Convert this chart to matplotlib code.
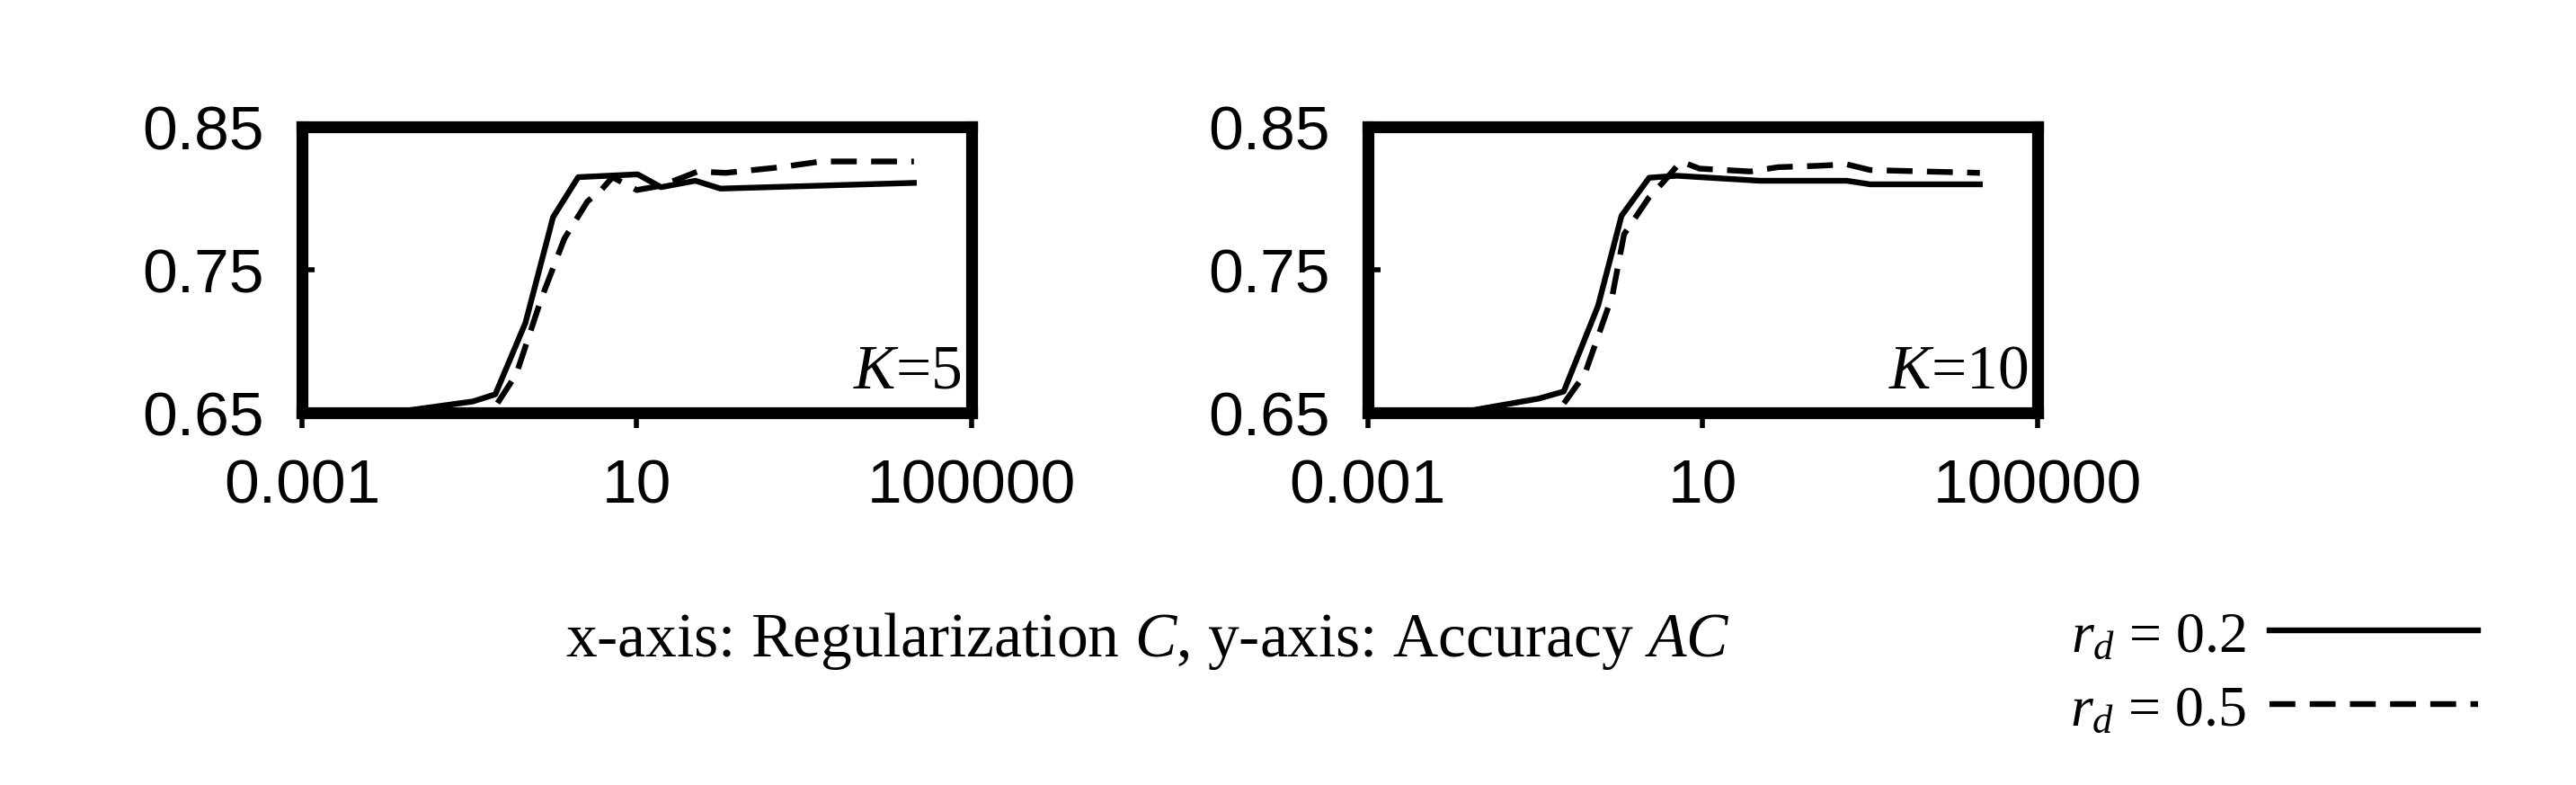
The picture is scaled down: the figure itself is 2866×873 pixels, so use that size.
import matplotlib
matplotlib.use("Agg")
import matplotlib.pyplot as plt
import numpy as np

# log10(C) positions and accuracy values
k5_solid_logc = [-3, -1.95, -0.96, -0.69, -0.33, 0.0, 0.30, 1.01, 1.29, 1.70, 2.0, 4.31]
k5_solid_ac = [0.650, 0.650, 0.658, 0.663, 0.713, 0.787, 0.815, 0.817, 0.808, 0.8125, 0.807, 0.811]
k5_dash_logc = [-3, -0.74, -0.44, -0.14, 0.135, 0.41, 0.575, 0.71, 1.0, 1.29, 1.73, 2.06, 2.72, 3.2, 4.31]
k5_dash_ac = [0.650, 0.650, 0.677, 0.730, 0.772, 0.798, 0.806, 0.815, 0.806, 0.809, 0.819, 0.818, 0.822, 0.826, 0.826]

k10_solid_logc = [-3, -1.93, -0.96, -0.66, -0.25, 0.03, 0.36, 0.69, 1.68, 2.72, 3.0, 4.31]
k10_solid_ac = [0.650, 0.650, 0.660, 0.665, 0.725, 0.788, 0.8146, 0.816, 0.8125, 0.8125, 0.810, 0.810]
k10_dash_logc = [-3, -0.74, -0.41, -0.08, 0.06, 0.36, 0.52, 0.74, 0.96, 1.57, 1.9, 2.39, 2.72, 3.0, 4.31]
k10_dash_ac = [0.650, 0.650, 0.677, 0.732, 0.775, 0.801, 0.811, 0.826, 0.821, 0.819, 0.822, 0.823, 0.824, 0.820, 0.818]

panel_labels = ["$\\mathit{K}$=5", "$\\mathit{K}$=10"]
xticks = [0.001, 10, 100000]
xtick_labels = ["0.001", "10", "100000"]
yticks = [0.65, 0.75, 0.85]
ytick_labels = ["0.65", "0.75", "0.85"]

plt.rcParams['mathtext.fontset'] = 'custom'
plt.rcParams['mathtext.it'] = 'Liberation Serif:italic'
plt.rcParams['mathtext.rm'] = 'Liberation Serif'

DASH = (0, (4.5, 2.5))
fig = plt.figure(figsize=(28.66, 8.73), dpi=100)
panels = [
    (0.1172, k5_solid_logc, k5_solid_ac, k5_dash_logc, k5_dash_ac, panel_labels[0]),
    (0.5310, k10_solid_logc, k10_solid_ac, k10_dash_logc, k10_dash_ac, panel_labels[1]),
]
for left, sx, sy, dx, dy, lab in panels:
    ax = fig.add_axes([left, 0.474, 0.260, 0.364])
    ax.plot(10 ** np.array(sx), sy, color='black', lw=4.6, solid_joinstyle='round')
    ax.plot(10 ** np.array(dx), dy, color='black', lw=4.6, ls=DASH)
    ax.set_xscale('log')
    ax.set_xlim(0.001, 100000)
    ax.set_ylim(0.65, 0.85)
    ax.set_xticks(xticks)
    ax.set_xticklabels(xtick_labels)
    ax.xaxis.set_minor_locator(matplotlib.ticker.NullLocator())
    ax.set_yticks(yticks)
    ax.set_yticklabels(ytick_labels)
    ax.tick_params(axis='x', direction='out', length=12, width=4, labelsize=50, pad=24)
    ax.tick_params(axis='y', direction='in', length=10, width=4, labelsize=50, pad=30)
    for lbl in ax.get_xticklabels() + ax.get_yticklabels():
        lbl.set_fontfamily('Liberation Sans')
    for sp in ax.spines.values():
        sp.set_linewidth(9.5)
    ax.text(0.985, 0.04, lab, transform=ax.transAxes, ha='right', va='bottom',
            fontsize=50, family='Liberation Serif')

fig.text(0.4455, 0.183, "x-axis: Regularization $\\mathit{C}$, y-axis: Accuracy $\\mathit{AC}$",
         ha='center', va='center', fontsize=50, family='Liberation Serif')

# legend
for yy, lab, ls in [(0.194, "0.2", '-'), (0.10, "0.5", DASH)]:
    fig.text(0.872, yy - 0.008, "$\\mathit{r}_{\\mathit{d}}$ = " + lab, ha='right', va='center',
             fontsize=46, family='Liberation Serif')
    fig.add_artist(matplotlib.lines.Line2D([0.881, 0.962], [yy + 0.003, yy + 0.003],
                                           color='black', lw=4.6, ls=ls,
                                           transform=fig.transFigure))

fig.savefig("out.png", dpi=100, facecolor='white')
